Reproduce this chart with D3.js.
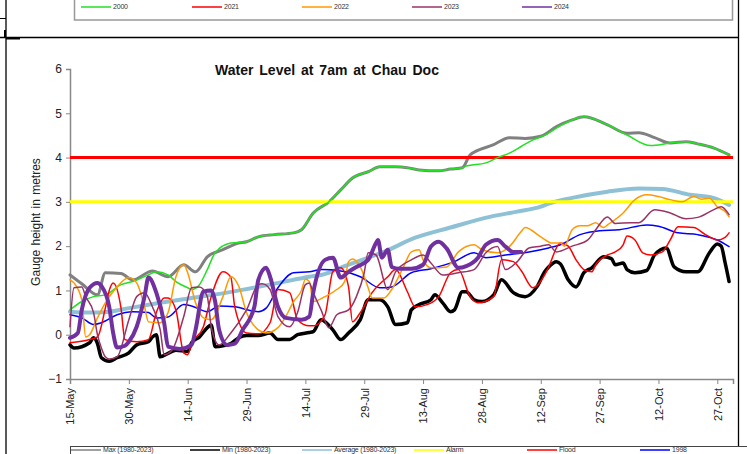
<!DOCTYPE html>
<html><head><meta charset="utf-8">
<script src="https://cdn.jsdelivr.net/npm/d3@7"></script>
<style>
html,body{margin:0;padding:0;background:#fff;}
svg{display:block;font-family:"Liberation Sans",Arial,sans-serif;}
</style></head>
<body><svg id="c" width="747" height="454"></svg>
<script>
// ---- data: [day offset from 15-May, gauge height in metres] ----
const tickDays = [0,15,30,45,60,75,90,105,120,135,150,165];
const tickLabels = ["15-May","30-May","14-Jun","29-Jun","14-Jul","29-Jul","13-Aug","28-Aug","12-Sep","27-Sep","12-Oct","27-Oct"];
const yTicks = [-1,0,1,2,3,4,5,6];
const alarmLevel = 3;
const floodLevel = 4;

const maxSeries = [[0,1.35],[3,1.15],[7,0.9],[9,1.4],[13,1.38],[16,1.24],[21,1.44],[25,1.31],[29,1.58],[32,1.42],[35,1.76],[39,1.92],[43,2.07],[45,2.1],[48,2.21],[52,2.26],[57,2.3],[59,2.37],[62,2.75],[66,3.0],[69,3.27],[72,3.54],[76,3.68],[79,3.79],[83,3.79],[86,3.77],[89,3.72],[94,3.7],[97,3.74],[100,3.77],[102,4.06],[108,4.29],[112,4.45],[116,4.43],[120,4.48],[124,4.7],[128,4.85],[131,4.92],[137,4.74],[142,4.55],[145,4.56],[149,4.45],[153,4.33],[157,4.36],[160,4.31],[164,4.22],[168,4.06]];
const minSeries = [[0,-0.23],[1,-0.3],[5,-0.18],[6,-0.07],[7,-0.2],[8,-0.52],[10,-0.6],[12,-0.52],[15,-0.41],[17,-0.23],[20,-0.16],[21,-0.05],[22,0],[23,-0.5],[25,-0.42],[27,-0.35],[30,-0.38],[31,-0.18],[33,-0.05],[35,0.16],[36,0.22],[37,-0.27],[39,-0.25],[41,-0.2],[43,-0.07],[45,-0.02],[48,-0.02],[51,0.04],[53,-0.11],[56,-0.11],[58,0],[61,0.05],[62,0.07],[64,0.34],[67,0.11],[69,-0.11],[71,0.04],[74,0.34],[76,0.79],[79,0.79],[81,0.63],[83,0.23],[86,0.27],[87,0.56],[89,0.68],[92,0.79],[93,0.9],[95,0.72],[97,0.52],[98,0.56],[100,0.97],[101,0.97],[103,0.79],[105,0.75],[108,0.9],[110,1.24],[113,0.95],[116,0.86],[119,1.08],[121,1.42],[122,1.53],[124,1.65],[125,1.6],[127,1.24],[129,1.08],[131,1.4],[133,1.51],[136,1.76],[138,1.72],[139,1.58],[141,1.62],[142,1.47],[144,1.4],[147,1.45],[149,1.8],[152,1.96],[154,1.53],[157,1.42],[160,1.42],[163,1.85],[165,2.05],[166,2.0],[167,1.62],[168,1.2]];
const avgSeries = [[0,0.52],[5,0.5],[10,0.52],[15,0.6],[23,0.72],[31,0.83],[40,0.95],[48,1.08],[57,1.24],[61,1.31],[64,1.35],[71,1.58],[76,1.74],[80,1.87],[88,2.19],[97,2.42],[107,2.66],[114,2.78],[120,2.89],[122,2.96],[128,3.09],[137,3.23],[145,3.3],[151,3.29],[158,3.16],[164,3.09],[168,2.93]];
const s1998 = [[0,0.45],[3,0.38],[6,0.23],[8,0.27],[12,0.45],[16,0.52],[20,0.5],[22,0.38],[25,0.4],[29,0.68],[31,0.65],[35,0.52],[38,0.65],[42,0.63],[48,0.52],[50,0.6],[53,1.06],[57,1.4],[61,1.42],[64,1.47],[69,1.44],[74,1.31],[79,1.06],[82,1.08],[87,1.4],[92,1.49],[98,1.65],[103,1.85],[106,1.74],[111,1.8],[117,1.87],[122,1.96],[125,2.03],[130,2.26],[135,2.35],[140,2.37],[147,2.48],[150,2.45],[155,2.3],[160,2.26],[165,2.14],[168,1.99]];
const s2000 = [[0,0.56],[3,0.75],[6,0.86],[9,0.9],[13,1.13],[16,1.2],[20,1.35],[22,1.42],[25,1.35],[27,1.2],[30,1.06],[31,1.02],[33,1.13],[35,1.47],[37,1.85],[41,2.07],[45,2.1],[48,2.21],[52,2.26],[57,2.3],[59,2.37],[62,2.75],[66,3.0],[69,3.27],[72,3.54],[76,3.68],[79,3.79],[83,3.79],[86,3.77],[89,3.72],[94,3.7],[97,3.74],[100,3.77],[101,3.81],[106,3.88],[109,4.0],[112,4.1],[115,4.25],[118,4.4],[121,4.5],[125,4.72],[128,4.85],[131,4.92],[137,4.74],[142,4.51],[148,4.27],[153,4.33],[157,4.36],[160,4.31],[164,4.22],[168,4.06]];
const s2021 = [[0,-0.18],[5,-0.11],[7,-0.05],[9,0.6],[10,1.0],[11,1.17],[13,0.6],[14,-0.11],[17,-0.16],[20,-0.11],[22,0.5],[24,0.83],[25,0.83],[27,0.56],[29,-0.41],[30,-0.45],[31,-0.2],[34,0.18],[36,0.86],[39,1.42],[41,1.3],[42,0.63],[45,0.04],[48,0.02],[51,0.27],[53,1.02],[56,0.95],[58,0.34],[61,0.2],[62,0.2],[65,0.45],[67,1.42],[69,1.51],[71,1.08],[72,0.29],[74,0.5],[77,0.95],[81,1.31],[83,1.47],[86,0.97],[88,0.63],[91,0.68],[94,0.86],[97,1.4],[99,1.47],[102,0.86],[104,0.72],[108,0.86],[110,1.69],[113,1.65],[115,1.45],[118,1.06],[121,1.35],[122,1.53],[125,2.07],[127,2.0],[129,1.69],[131,1.47],[133,1.42],[134,1.58],[137,1.8],[139,1.87],[141,2.03],[142,2.23],[144,2.14],[146,1.85],[148,1.8],[151,1.87],[153,2.14],[155,2.44],[159,2.42],[162,2.26],[165,2.14],[167,2.2],[168,2.3]];
const s2022 = [[0,1.24],[1,1.17],[3,0.79],[4,-0.05],[5,0.0],[7,0.38],[9,0.72],[12,1.08],[15,1.29],[17,1.17],[19,0.63],[20,0.29],[23,0.27],[25,0.5],[27,1.31],[29,1.58],[30,1.4],[32,0.72],[34,0.38],[36,0.34],[39,0.86],[41,1.31],[43,1.1],[45,0.5],[48,0.11],[50,0.04],[53,0.16],[55,0.41],[57,0.75],[59,1.0],[60,1.25],[61,1.2],[62,0.75],[65,0.86],[68,1.02],[70,1.2],[71,1.65],[72,1.71],[74,1.53],[76,1.06],[77,0.83],[80,0.83],[82,1.02],[85,1.53],[87,1.87],[89,1.92],[90,1.69],[92,1.51],[96,1.53],[99,1.87],[103,2.03],[105,1.92],[109,1.85],[112,1.99],[115,2.33],[116,2.42],[120,2.21],[123,2.07],[125,2.07],[126,2.0],[128,2.37],[130,2.46],[132,2.46],[134,2.53],[136,2.42],[137,2.48],[141,2.75],[144,3.05],[147,3.16],[150,3.12],[153,3.05],[156,3.0],[159,3.12],[161,3.06],[163,3.08],[165,2.89],[167,2.78],[168,2.66]];
const s2023 = [[0,0.18],[1,1.06],[3,1.08],[4,0.86],[6,0.5],[7,0.0],[8,-0.3],[9,-0.5],[10,-0.55],[12,-0.5],[15,0.34],[17,0.86],[19,0.95],[21,0.63],[23,0.11],[24,-0.45],[26,-0.35],[29,0.41],[31,1.06],[33,1.08],[35,0.86],[36,0.18],[38,-0.23],[41,0.04],[45,0.56],[48,1.13],[49,1.15],[51,1.02],[53,0.41],[56,0.18],[58,0.5],[60,1.13],[61,1.17],[62,0.95],[64,0.56],[66,0.16],[68,0.45],[71,0.56],[73,0.86],[75,1.4],[76,1.85],[78,1.8],[81,1.02],[83,1.42],[87,1.69],[90,1.8],[92,1.62],[95,1.35],[99,1.4],[103,1.47],[106,1.85],[109,1.99],[111,1.47],[114,1.65],[117,1.96],[120,2.0],[122,2.03],[124,1.87],[128,2.0],[132,2.14],[134,2.37],[137,2.66],[139,2.51],[143,2.53],[145,2.53],[149,2.82],[153,2.75],[157,2.62],[160,2.65],[164,2.82],[166,2.89],[168,2.71]];
const s2024 = [[0,-0.07],[2,0.04],[3,0.56],[5,1.06],[7,1.17],[8,1.1],[10,0.63],[11,0.04],[12,-0.29],[14,-0.25],[15,-0.16],[17,0.18],[19,0.86],[20,1.29],[22,0.95],[24,0.27],[25,-0.27],[28,-0.32],[31,-0.23],[32,0.11],[34,0.97],[36,1.0],[37,0.75],[38,0.11],[40,-0.23],[42,-0.2],[44,0.11],[47,0.63],[48,1.24],[50,1.51],[51,1.31],[53,0.63],[55,0.38],[59,0.34],[61,0.41],[62,0.95],[65,1.69],[67,1.74],[69,1.29],[71,1.42],[73,1.53],[76,1.69],[78,2.07],[78.5,2.14],[79.5,1.74],[81,1.92],[82,1.53],[84,1.49],[87,1.49],[90,1.58],[92,1.99],[94,2.1],[96,1.95],[99,1.51],[101,1.55],[104,1.74],[106,2.03],[109,2.14],[111,1.99],[113,1.87],[115,1.87]];

const seriesNames = ["Max (1980-2023)","Min (1980-2023)","Average (1980-2023)","Alarm","Flood","1998","2000","2021","2022","2023","2024"];

// ---- drawing ----
const svg = d3.select("#c");
const X0 = 70, X1 = 733, Y0 = 69, Y1 = 379;
const x = d3.scaleLinear().domain([0,169]).range([X0, X1]);
const y = d3.scaleLinear().domain([-1,6]).range([Y1, Y0]);

// frame lines
const fr = svg.append("g").attr("stroke","#000").attr("fill","none");
fr.append("line").attr("x1",0).attr("x2",739).attr("y1",37.5).attr("y2",37.5).attr("stroke-width",1.3);
fr.append("line").attr("x1",6).attr("x2",6).attr("y1",0).attr("y2",454).attr("stroke-width",1.3);
fr.append("line").attr("x1",738.5).attr("x2",738.5).attr("y1",0).attr("y2",454).attr("stroke-width",1.3);
fr.append("line").attr("x1",0).attr("x2",6).attr("y1",18.5).attr("y2",18.5).attr("stroke-width",1);
fr.append("line").attr("x1",5).attr("x2",5).attr("y1",30).attr("y2",38).attr("stroke-width",2);
fr.append("line").attr("x1",6).attr("x2",20).attr("y1",38.5).attr("y2",38.5).attr("stroke-width",2);

// top legend box (previous chart)
svg.append("rect").attr("x",74.5).attr("y",-5).attr("width",658).attr("height",25)
  .attr("fill","#fff").attr("stroke","#999").attr("stroke-width",1.5);
// bottom legend box
svg.append("rect").attr("x",70.5).attr("y",446.5).attr("width",680).attr("height",20)
  .attr("fill","#fff").attr("stroke","#444").attr("stroke-width",1);

const styles = {
  "Max (1980-2023)": {c:"#808080", w:3},
  "Min (1980-2023)": {c:"#000000", w:3.5},
  "Average (1980-2023)": {c:"#8fc1d6", w:4},
  "Alarm": {c:"#ffff00", w:3},
  "Flood": {c:"#ff0000", w:3},
  "1998": {c:"#0000ff", w:1.5},
  "2000": {c:"#22e022", w:1.5},
  "2021": {c:"#ff0000", w:1.5},
  "2022": {c:"#ff9900", w:1.5},
  "2023": {c:"#993366", w:1.5},
  "2024": {c:"#7030a0", w:4}
};

// axes
const yAxis = svg.append("g").attr("transform",`translate(${X0},0)`)
  .call(d3.axisLeft(y).tickValues(yTicks).tickSize(4).tickFormat(d3.format("d")));
yAxis.select(".domain").attr("stroke","#888").attr("stroke-width",1.5);
yAxis.selectAll(".tick line").attr("stroke","#888");
yAxis.selectAll("text").attr("font-size",12).attr("fill","#222")
  .attr("font-family","Liberation Sans, Arial, sans-serif").attr("x",-8);

const xAxis = svg.append("g").attr("transform",`translate(0,${Y1})`)
  .call(d3.axisBottom(x).tickValues(tickDays).tickSize(5).tickFormat((d,i)=>tickLabels[i]));
xAxis.select(".domain").attr("stroke","#888").attr("stroke-width",1.5);
xAxis.selectAll(".tick line").attr("stroke","#888");
xAxis.selectAll("text").attr("font-size",11).attr("fill","#222")
  .attr("font-family","Liberation Sans, Arial, sans-serif")
  .attr("transform","rotate(-90)").attr("text-anchor","end")
  .attr("x",-9).attr("y",0).attr("dy","0.35em");

// lines
const line = d3.line().x(d=>x(d[0])).y(d=>y(d[1])).curve(d3.curveMonotoneX);
const dataMap = {
  "Max (1980-2023)": maxSeries,
  "Min (1980-2023)": minSeries,
  "Average (1980-2023)": avgSeries,
  "Alarm": [[0,alarmLevel],[169,alarmLevel]],
  "Flood": [[0,floodLevel],[169,floodLevel]],
  "1998": s1998, "2000": s2000, "2021": s2021, "2022": s2022, "2023": s2023, "2024": s2024
};
const gl = svg.append("g").attr("fill","none").attr("stroke-linejoin","round").attr("stroke-linecap","round");
seriesNames.forEach(n => {
  gl.append("path").datum(dataMap[n]).attr("d", line)
    .attr("stroke", styles[n].c).attr("stroke-width", styles[n].w)
    .attr("stroke-linecap", (n==="Alarm"||n==="Flood") ? "butt" : "round");
});

// title
svg.append("text").attr("x",327).attr("y",75).attr("text-anchor","middle")
  .attr("font-size",14).attr("font-weight","bold").attr("fill","#111").attr("word-spacing",2)
  .text("Water Level at 7am at Chau Doc");
// y label
svg.append("text").attr("transform","translate(40,222) rotate(-90)").attr("text-anchor","middle")
  .attr("font-size",12).attr("fill","#222").attr("word-spacing",1)
  .text("Gauge height in metres");

// legends
const bottomLeg = [["Max (1980-2023)",71],["Min (1980-2023)",190],["Average (1980-2023)",302],["Alarm",414],["Flood",527],["1998",640]];
const topLeg = [["2000",81],["2021",192],["2022",302],["2023",412],["2024",522]];
function legend(items, ly){
  items.forEach(([n,lx]) => {
    svg.append("line").attr("x1",lx).attr("x2",lx+30).attr("y1",ly).attr("y2",ly)
      .attr("stroke",styles[n].c).attr("stroke-width",1.5);
    svg.append("text").attr("x",lx+32).attr("y",ly).attr("dy","0.35em")
      .attr("font-size",7).attr("fill","#333").attr("letter-spacing",-0.2).text(n);
  });
}
legend(bottomLeg, 450);
legend(topLeg, 7);
</script></body></html>
